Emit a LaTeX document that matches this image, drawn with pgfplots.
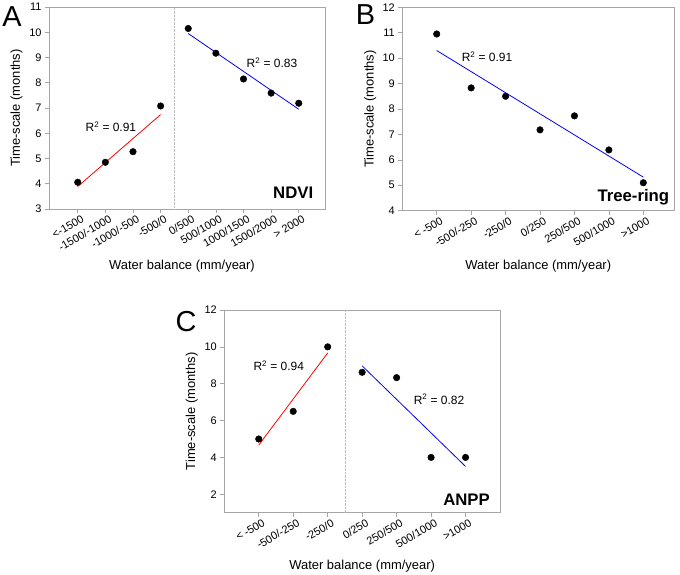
\documentclass[border=0pt]{standalone}
\usepackage{fontspec}
\setmainfont{Liberation Sans}
\usepackage{pgfplots}
\pgfplotsset{compat=1.18}
\tikzset{
  r2/.style={font=\fontsize{12}{14}\selectfont},
  tag/.style={font=\fontsize{16.8}{19}\selectfont\bfseries},
  letter/.style={font=\fontsize{29}{32}\selectfont},
}
\pgfplotsset{
  panel/.style={
    scale only axis,
    anchor=south west,
    axis line style={gray!70, line width=0.8pt},
    tick style={gray!70, line width=0.7pt},
    tick align=outside,
    major tick length=4bp,
    tick pos=left,
    /pgf/number format/assume math mode=true,
    tick label style={font=\fontsize{11}{13}\selectfont, black},
    xticklabel style={rotate=30, anchor=north east, inner sep=1bp, yshift=-2bp, xshift=3bp},
    label style={font=\fontsize{13}{15}\selectfont},
    ylabel style={at={(axis description cs:-0.118,0.5)}, anchor=center},
    xlabel style={at={(axis description cs:0.5,0)}, anchor=center},
    xlabel={Water balance (mm/year)},
    ylabel={Time-scale (months)},
    clip=false,
  },
  pts/.style={only marks, mark=*, mark size=3.3bp, black},
}
\begin{document}
\begin{tikzpicture}
\path[use as bounding box] (0,0) rectangle (680bp,-575bp);
% Panel A
\begin{axis}[panel,
  at={(49bp,-209bp)}, width=276bp, height=202bp,
  xmin=-1.04, xmax=8.95, ymin=3, ymax=11, ytick={3,4,...,11},
  xtick={0,...,8},
  xticklabels={<-1500,-1500/-1000,-1000/-500,-500/0,0/500,500/1000,1000/1500,1500/2000,> 2000},
  xlabel style={yshift=-57bp, xshift=-5bp},
]
\draw[gray!50, densely dotted] (axis cs:3.5,3) -- (axis cs:3.5,11);
\addplot[red, line width=0.8pt] coordinates {(0,3.89) (3,6.74)};
\addplot[blue, line width=0.8pt] coordinates {(4,9.95) (8,6.95)};
\addplot[pts] coordinates {(0,4.06) (1,4.85) (2,5.27) (3,7.08) (4,10.15) (5,9.17) (6,8.15) (7,7.59) (8,7.19)};
\node[r2] at (axis cs:1.2,6.25) {R\textsuperscript{2} = 0.91};
\node[r2] at (axis cs:7.03,8.78) {R\textsuperscript{2} = 0.83};
\node[tag] at (axis cs:7.8,3.63) {NDVI};
\end{axis}
% Panel B
\begin{axis}[panel,
  at={(402.3bp,-210.7bp)}, width=272bp, height=203.4bp,
  xmin=-1, xmax=6.9, ymin=4, ymax=12, ytick={4,5,...,12},
  xtick={0,...,6},
  xticklabels={< -500,-500/-250,-250/0,0/250,250/500,500/1000,>1000},
  xlabel style={yshift=-55bp},
]
\addplot[blue, line width=0.8pt] coordinates {(0,10.30) (6,5.32)};
\addplot[pts] coordinates {(0,10.95) (1,8.83) (2,8.5) (3,7.18) (4,7.73) (5,6.39) (6,5.1)};
\node[r2] at (axis cs:1.46,10.06) {R\textsuperscript{2} = 0.91};
\node[tag] at (axis cs:5.71,4.54) {Tree-ring};
\end{axis}
% Panel C
\begin{axis}[panel,
  at={(224.3bp,-512.7bp)}, width=275.7bp, height=202.7bp,
  xmin=-1, xmax=7, ymin=1, ymax=12, ytick={2,4,...,12},
  xtick={0,...,6},
  xticklabels={< -500,-500/-250,-250/0,0/250,250/500,500/1000,>1000},
  xlabel style={yshift=-53bp},
]
\draw[gray!50, densely dotted] (axis cs:2.5,1) -- (axis cs:2.5,12);
\addplot[red, line width=0.8pt] coordinates {(0,4.67) (2,9.67)};
\addplot[blue, line width=0.8pt] coordinates {(3,8.97) (6,3.51)};
\addplot[pts] coordinates {(0,5.0) (1,6.5) (2,10.0) (3,8.62) (4,8.33) (5,4.0) (6,4.0)};
\node[r2] at (axis cs:0.58,8.96) {R\textsuperscript{2} = 0.94};
\node[r2] at (axis cs:5.23,7.15) {R\textsuperscript{2} = 0.82};
\node[tag] at (axis cs:6.03,1.69) {ANPP};
\end{axis}
\node[letter] at (12bp,-16.5bp) {A};
\node[letter] at (365.5bp,-15bp) {B};
\node[letter] at (186bp,-322bp) {C};
\end{tikzpicture}
\end{document}
